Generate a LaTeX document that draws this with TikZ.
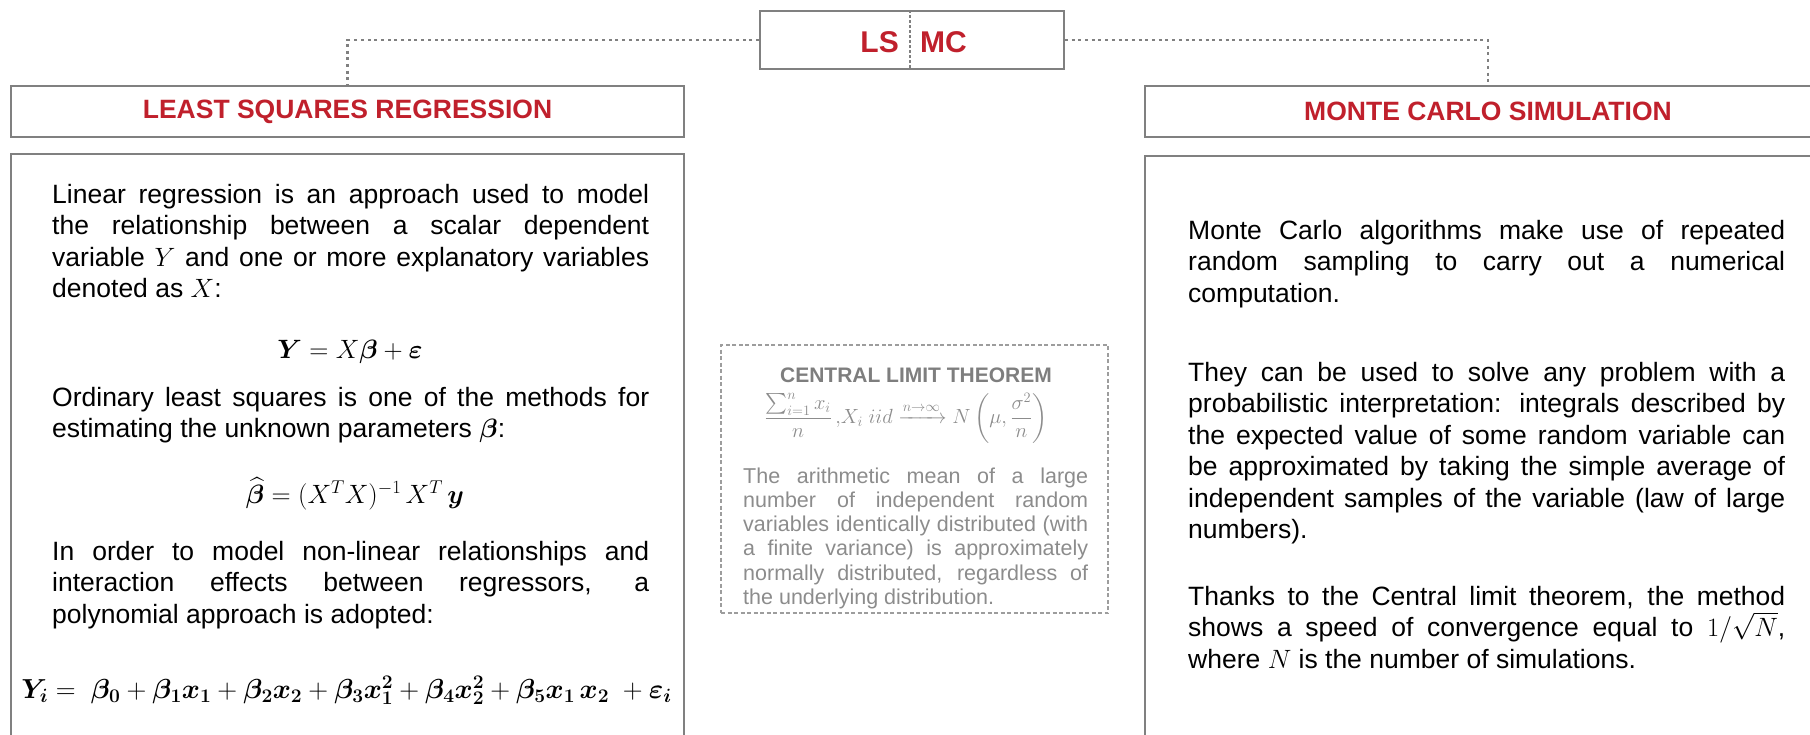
\RequirePackage{fix-cm}
\documentclass[tikz,border=0pt]{standalone}
\usepackage[no-math]{fontspec}
\setmainfont{Liberation Sans}
\usepackage{amsmath}
\usepackage{bm}
\usetikzlibrary{positioning}

\definecolor{lsred}{RGB}{192,32,44}
\definecolor{framegray}{RGB}{128,128,128}
\definecolor{cltgray}{RGB}{140,140,140}

\hyphenpenalty=10000
\exhyphenpenalty=10000

\tikzset{
    frame/.style = {draw = framegray, line width = 1.8pt},
    headtext/.style = {font = \fontsize{26.5}{30}\selectfont\bfseries, text = lsred},
    toptext/.style = {font = \fontsize{30}{34}\selectfont\bfseries, text = lsred, inner sep = 0pt},
    body/.style = {font = \fontsize{26.5}{31.5}\selectfont\sloppy, text width = 597pt, align = justify, inner sep = 0pt, anchor = base west},
    formula/.style = {font = \fontsize{26.5}{31.5}\selectfont, inner sep = 0pt, anchor = base},
    link/.style = {draw = framegray, line width = 2.8pt, dash pattern = on 3pt off 3.7pt},
    cltbox/.style = {draw = cltgray!85, line width = 1.5pt, dash pattern = on 4pt off 2.5pt},
    clttext/.style = {font = \fontsize{21.5}{24.3}\selectfont\sloppy, text = cltgray, text width = 345pt, align = justify, inner sep = 0pt, anchor = base west}
}

\begin{document}
\begin{tikzpicture}[x = 1pt, y = -1pt]
    \useasboundingbox (0, 0) rectangle (1810, 734);
    \clip (0, 0) rectangle (1810, 734);

    \node[frame, minimum width = 304pt, minimum height = 58pt, inner sep = 0pt] (lsmc) at (912, 40) {};
    \draw[framegray, line width = 1.2pt, dash pattern = on 3pt off 2pt] ([xshift = -2pt]lsmc.north) -- ([xshift = -2pt]lsmc.south);
    \node[toptext, left = 13pt of lsmc.center, yshift = -2pt] (ls) {LS};
    \node[toptext, right = 8pt of lsmc.center, yshift = -2pt] (mc) {MC};

    \node[frame, headtext, minimum width = 673pt, minimum height = 51pt] (lshead) at (347.5, 111.5) {LEAST SQUARES REGRESSION};
    \node[frame, headtext, minimum width = 686pt, minimum height = 51pt] (mchead) at (1488, 111.5) {MONTE CARLO SIMULATION};

    \draw[link] (lsmc.west) -| (lshead.north);
    \draw[link] (lsmc.east) -| (mchead.north);

    \draw[frame] (11, 154) rectangle (684, 760);
    \draw[frame] (1145, 156) rectangle (1840, 760);

    \node[body] (lsintro) at (52, 203) {Linear regression is an approach used to model\linebreak the relationship between a scalar dependent\linebreak variable $Y$ and one or more explanatory variables\linebreak denoted as $X$:};
    \node[formula] (lseq) at (350, 358) {$\bm{Y} = X\bm{\beta} + \bm{\varepsilon}$};
    \node[body] (olsintro) at (52, 406) {Ordinary least squares is one of the methods for\linebreak estimating the unknown parameters $\bm{\beta}$:};
    \node[formula] (olseq) at (355, 503) {$\widehat{\bm{\beta}} = (X^T X)^{-1}\, X^T\, \bm{y}$};
    \node[body] (polyintro) at (52, 560) {In order to model non-linear relationships and\linebreak interaction effects between regressors, a\linebreak polynomial approach is adopted:};
    \node[formula, font = \fontsize{27.5}{32}\selectfont] (polyeq) at (346.5, 698) {$\bm{Y_i} = \ \bm{\beta_0} + \bm{\beta_1 x_1} + \bm{\beta_2 x_2} + \bm{\beta_3 x_1^2} + \bm{\beta_4 x_2^2} + \bm{\beta_5 x_1\, x_2} \ + \bm{\varepsilon_i}$};

    \node[cltbox, minimum width = 387pt, minimum height = 268pt] (clt) at (914.5, 479) {};
    \node[font = \fontsize{21}{24}\selectfont\bfseries, text = cltgray!90!black, inner sep = 0pt, anchor = base] (clttitle) at (916, 382) {CENTRAL LIMIT THEOREM};
    \node[font = \fontsize{20.5}{24}\selectfont, text = cltgray, inner sep = 0pt] (cltformula) at (906, 418) {$\dfrac{\sum_{i=1}^{n} x_i}{n}\,{,}X_i\;iid \xrightarrow{n\to\infty} N\left(\mu, \dfrac{\sigma^2}{n}\right)$};
    \node[clttext] (cltbody) at (743, 483) {The arithmetic mean of a large\linebreak number of independent random\linebreak variables identically distributed (with\linebreak a finite variance) is approximately\linebreak normally distributed, regardless of\linebreak the underlying distribution.};

    \node[body] (mcone) at (1188, 239) {Monte Carlo algorithms make use of repeated\linebreak random sampling to carry out a numerical\linebreak computation.};
    \node[body] (mctwo) at (1188, 381) {They can be used to solve any problem with a\linebreak probabilistic interpretation: integrals described by\linebreak the expected value of some random variable can\linebreak be approximated by taking the simple average of\linebreak independent samples of the variable (law of large\linebreak numbers).};
    \node[body] (mcthree) at (1188, 605) {Thanks to the Central limit theorem, the method\linebreak shows a speed of convergence equal to $1/\sqrt{N}$,\linebreak where $N$ is the number of simulations.};
\end{tikzpicture}
\end{document}
